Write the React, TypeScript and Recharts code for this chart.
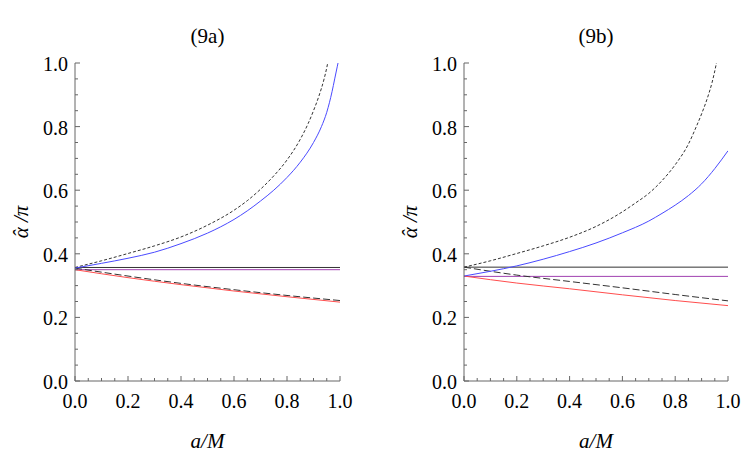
import { Label, Line, LineChart, XAxis, YAxis } from "recharts";

// a/M grids used by the curves
const X_LOW = [0, 0.2, 0.4, 0.6, 0.8, 1.0];
const X_FLAT = [0, 1];

// (9a)
const A_UP_DASH_X = [0, 0.1, 0.2, 0.3, 0.4, 0.5, 0.6, 0.65, 0.7, 0.75, 0.8, 0.85, 0.88, 0.9, 0.92, 0.94, 0.95, 0.96];
const A_UP_DASH_Y = [0.357, 0.378, 0.401, 0.425, 0.453, 0.49, 0.537, 0.567, 0.603, 0.645, 0.695, 0.76, 0.81, 0.85, 0.895, 0.95, 0.985, 1.03];
const A_BLUE_X = [0, 0.1, 0.2, 0.3, 0.4, 0.5, 0.55, 0.6, 0.65, 0.7, 0.75, 0.8, 0.85, 0.9, 0.93, 0.95, 0.97, 0.98, 0.99, 1.0];
const A_BLUE_Y = [0.355, 0.37, 0.386, 0.405, 0.432, 0.465, 0.485, 0.508, 0.535, 0.566, 0.6, 0.64, 0.688, 0.75, 0.8, 0.845, 0.91, 0.95, 0.99, 1.03];
const A_LOW_DASH_Y = [0.355, 0.33, 0.307, 0.287, 0.269, 0.253];
const A_RED_Y = [0.35, 0.325, 0.303, 0.283, 0.265, 0.248];
const A_BLACK_FLAT = [0.357, 0.357];
const A_PURPLE_FLAT = [0.35, 0.35];

// (9b)
const B_UP_DASH_X = [0, 0.1, 0.2, 0.3, 0.4, 0.5, 0.6, 0.65, 0.7, 0.75, 0.8, 0.85, 0.88, 0.9, 0.92, 0.94, 0.955, 0.965];
const B_UP_DASH_Y = [0.358, 0.378, 0.401, 0.425, 0.452, 0.486, 0.532, 0.56, 0.59, 0.63, 0.68, 0.745, 0.8, 0.84, 0.885, 0.94, 0.995, 1.04];
const B_BLUE_X = [0, 0.1, 0.2, 0.3, 0.4, 0.5, 0.6, 0.7, 0.75, 0.8, 0.85, 0.9, 0.95, 1.0];
const B_BLUE_Y = [0.33, 0.345, 0.362, 0.383, 0.407, 0.434, 0.466, 0.503, 0.527, 0.553, 0.583, 0.62, 0.668, 0.724];
const B_LOW_DASH_Y = [0.358, 0.333, 0.313, 0.293, 0.272, 0.252];
const B_RED_Y = [0.33, 0.308, 0.29, 0.271, 0.253, 0.237];
const B_BLACK_FLAT = [0.358, 0.358];
const B_PURPLE_FLAT = [0.329, 0.329];

const TICKS = [0, 0.05, 0.1, 0.15, 0.2, 0.25, 0.3, 0.35, 0.4, 0.45, 0.5, 0.55, 0.6, 0.65, 0.7, 0.75, 0.8, 0.85, 0.9, 0.95, 1.0];

const SERIF = { fontFamily: '"Liberation Serif", "Times New Roman", Times, Tinos, "DejaVu Serif", serif' };
const FRAME = "#666";
const BLUE = "#4a4aff";
const RED = "#ff4d4d";
const PURPLE = "#a040b0";
const DARK = "#333";

const zip = (xs: number[], ys: number[]) => xs.map((a, i) => ({ a, v: ys[i] }));
const isMajor = (v: number) => Math.round(v * 100) % 20 === 0;

type Curve = { key: string; data: { a: number; v: number }[]; color: string; dash?: string };

function BottomTick({ x, y, payload }: any) {
	const major = isMajor(payload.value);
	return (
		<g>
			<line x1={x} x2={x} y1={y} y2={y - (major ? 5 : 3)} stroke={FRAME} />
			{major && (
				<text x={x} y={y + 27} textAnchor="middle" style={SERIF} fontSize={20} fill="#000">
					{payload.value.toFixed(1)}
				</text>
			)}
		</g>
	);
}

function TopTick({ x, y, payload }: any) {
	const major = isMajor(payload.value);
	return <line x1={x} x2={x} y1={y} y2={y + (major ? 5 : 3)} stroke={FRAME} />;
}

function LeftTick({ x, y, payload }: any) {
	const major = isMajor(payload.value);
	return (
		<g>
			<line x1={x} x2={x + (major ? 5 : 3)} y1={y} y2={y} stroke={FRAME} />
			{major && (
				<text x={x - 7} y={y + 8} textAnchor="end" style={SERIF} fontSize={20} fill="#000">
					{payload.value.toFixed(1)}
				</text>
			)}
		</g>
	);
}

function RightTick({ x, y, payload }: any) {
	const major = isMajor(payload.value);
	return <line x1={x} x2={x - (major ? 5 : 3)} y1={y} y2={y} stroke={FRAME} />;
}

type PanelProps = {
	title: string;
	curves: Curve[];
	left: number;
	width: number;
	axisWidth: number;
	rightMargin: number;
};

function Panel({ title, curves, left, width, axisWidth, rightMargin }: PanelProps) {
	const plotCenter = axisWidth + (width - axisWidth - rightMargin) / 2;
	return (
		<div style={{ position: "absolute", left, top: 0, width, height: 471 }}>
			<div
				style={{
					...SERIF,
					position: "absolute",
					left: plotCenter - 60,
					width: 120,
					top: 26,
					fontSize: 21,
					lineHeight: "21px",
					textAlign: "center",
				}}
			>
				{title}
			</div>
			<LineChart width={width} height={471} margin={{ top: 63, right: rightMargin, bottom: 0, left: 0 }}>
				<XAxis
					xAxisId="b"
					type="number"
					dataKey="a"
					domain={[0, 1]}
					allowDataOverflow
					ticks={TICKS}
					interval={0}
					height={90}
					tickSize={0}
					tickMargin={0}
					tickLine={false}
					axisLine={{ stroke: FRAME }}
					tick={<BottomTick />}
				>
					<Label
						content={({ viewBox }: any) => (
							<text
								x={viewBox.x + viewBox.width / 2}
								y={viewBox.y + 67}
								textAnchor="middle"
								style={SERIF}
								fontSize={21}
								fontStyle="italic"
							>
								a/M
							</text>
						)}
					/>
				</XAxis>
				<XAxis
					xAxisId="t"
					orientation="top"
					type="number"
					dataKey="a"
					domain={[0, 1]}
					allowDataOverflow
					ticks={TICKS}
					interval={0}
					height={0}
					tickSize={0}
					tickMargin={0}
					tickLine={false}
					axisLine={{ stroke: FRAME }}
					tick={<TopTick />}
				/>
				<YAxis
					yAxisId="l"
					type="number"
					domain={[0, 1]}
					allowDataOverflow
					ticks={TICKS}
					interval={0}
					width={axisWidth}
					tickSize={0}
					tickMargin={0}
					tickLine={false}
					axisLine={{ stroke: FRAME }}
					tick={<LeftTick />}
				>
					<Label
						content={({ viewBox }: any) => {
							const cx = viewBox.x + viewBox.width - 54;
							const cy = viewBox.y + viewBox.height / 2;
							return (
								<text
									x={cx}
									y={cy}
									transform={`rotate(-90 ${cx} ${cy})`}
									textAnchor="middle"
									dominantBaseline="central"
									style={SERIF}
									fontSize={21}
									fontStyle="italic"
								>
									<tspan>α</tspan>
									<tspan dx={-10}>ˆ</tspan>
									<tspan dx={3}> /π</tspan>
								</text>
							);
						}}
					/>
				</YAxis>
				<YAxis
					yAxisId="r"
					orientation="right"
					type="number"
					domain={[0, 1]}
					allowDataOverflow
					ticks={TICKS}
					interval={0}
					width={0}
					tickSize={0}
					tickMargin={0}
					tickLine={false}
					axisLine={{ stroke: FRAME }}
					tick={<RightTick />}
				/>
				{curves.map((c) => (
					<Line
						key={c.key}
						xAxisId="b"
						yAxisId="l"
						data={c.data}
						dataKey="v"
						type="monotone"
						stroke={c.color}
						strokeWidth={1}
						strokeDasharray={c.dash}
						dot={false}
						activeDot={false}
						isAnimationActive={false}
					/>
				))}
			</LineChart>
		</div>
	);
}

const CURVES_A: Curve[] = [
	{ key: "flatBlack", data: zip(X_FLAT, A_BLACK_FLAT), color: DARK },
	{ key: "flatPurple", data: zip(X_FLAT, A_PURPLE_FLAT), color: PURPLE },
	{ key: "lowDash", data: zip(X_LOW, A_LOW_DASH_Y), color: DARK, dash: "7 3" },
	{ key: "red", data: zip(X_LOW, A_RED_Y), color: RED },
	{ key: "upDash", data: zip(A_UP_DASH_X, A_UP_DASH_Y), color: DARK, dash: "3 2" },
	{ key: "blue", data: zip(A_BLUE_X, A_BLUE_Y), color: BLUE },
];

const CURVES_B: Curve[] = [
	{ key: "flatBlack", data: zip(X_FLAT, B_BLACK_FLAT), color: DARK },
	{ key: "flatPurple", data: zip(X_FLAT, B_PURPLE_FLAT), color: PURPLE },
	{ key: "lowDash", data: zip(X_LOW, B_LOW_DASH_Y), color: DARK, dash: "7 3" },
	{ key: "red", data: zip(X_LOW, B_RED_Y), color: RED },
	{ key: "upDash", data: zip(B_UP_DASH_X, B_UP_DASH_Y), color: DARK, dash: "3 2" },
	{ key: "blue", data: zip(B_BLUE_X, B_BLUE_Y), color: BLUE },
];

export default function App() {
	return (
		<div style={{ position: "absolute", left: 0, top: 0, width: 747, height: 471, background: "#fff" }}>
			<Panel title="(9a)" curves={CURVES_A} left={0} width={373} axisWidth={75} rightMargin={33} />
			<Panel title="(9b)" curves={CURVES_B} left={373} width={374} axisWidth={91} rightMargin={19} />
		</div>
	);
}
